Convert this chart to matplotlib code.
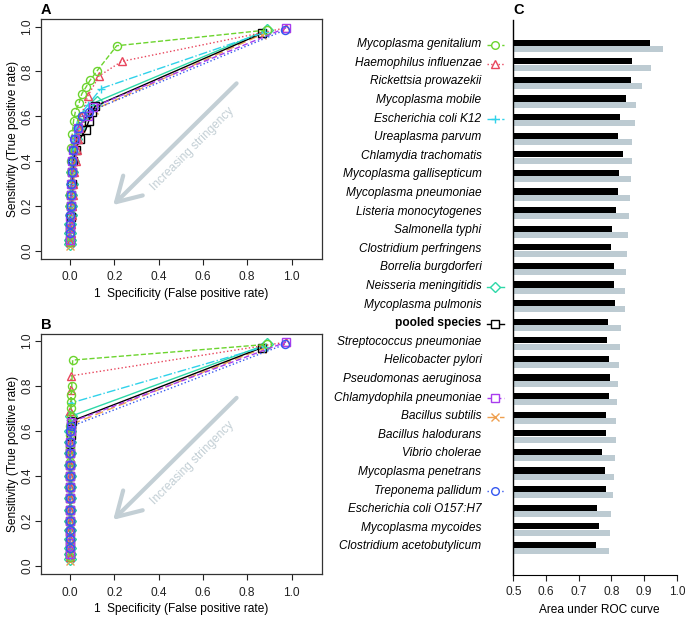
import matplotlib
matplotlib.use("Agg")
import matplotlib.pyplot as plt

plt.rcParams['font.family'] = ['Liberation Sans', 'DejaVu Sans']

# ---------------- data: panel C (area under ROC curve) ----------------
species = ["Mycoplasma genitalium", "Haemophilus influenzae", "Rickettsia prowazekii",
           "Mycoplasma mobile", "Escherichia coli K12", "Ureaplasma parvum",
           "Chlamydia trachomatis", "Mycoplasma gallisepticum", "Mycoplasma pneumoniae",
           "Listeria monocytogenes", "Salmonella typhi", "Clostridium perfringens",
           "Borrelia burgdorferi", "Neisseria meningitidis", "Mycoplasma pulmonis",
           "pooled species", "Streptococcus pneumoniae", "Helicobacter pylori",
           "Pseudomonas aeruginosa", "Chlamydophila pneumoniae", "Bacillus subtilis",
           "Bacillus halodurans", "Vibrio cholerae", "Mycoplasma penetrans",
           "Treponema pallidum", "Escherichia coli O157:H7", "Mycoplasma mycoides",
           "Clostridium acetobutylicum"]
auc_black = [0.918, 0.864, 0.860, 0.844, 0.826, 0.820, 0.836, 0.822, 0.820, 0.815,
             0.803, 0.798, 0.809, 0.807, 0.812, 0.791, 0.788, 0.792, 0.796, 0.793,
             0.783, 0.784, 0.770, 0.779, 0.783, 0.756, 0.762, 0.754]
auc_grey = [0.957, 0.920, 0.892, 0.874, 0.871, 0.864, 0.864, 0.860, 0.856, 0.853,
            0.851, 0.848, 0.844, 0.842, 0.842, 0.830, 0.827, 0.822, 0.820, 0.818,
            0.815, 0.814, 0.811, 0.808, 0.805, 0.798, 0.796, 0.792]

# ---------------- data: ROC curves (panels A and B), in drawing order ----------------
curve_names = ["Neisseria meningitidis", "Bacillus subtilis", "pooled species",
               "Escherichia coli K12", "Haemophilus influenzae", "Mycoplasma genitalium",
               "Chlamydophila pneumoniae", "Treponema pallidum"]
curve_colors = ["#2ED8A8", "#EFA050", "#000000", "#30D2EA", "#E8455C", "#6CD42E",
                "#A83CEE", "#3558F0"]
curve_markers = ["D", "x", "s", "+", "^", "o", "s", "o"]
curve_ls = ["-", (0, (6, 3)), "-", "-.", ":", "--", (0, (4, 2)), ":"]

tpr = [
    [0.03, 0.05, 0.08, 0.12, 0.16, 0.20, 0.25, 0.30, 0.35, 0.40, 0.45, 0.50, 0.55, 0.60, 0.665, 0.985],
    [0.02, 0.05, 0.10, 0.15, 0.20, 0.25, 0.30, 0.35, 0.40, 0.45, 0.50, 0.55, 0.60, 0.63, 0.965],
    [0.05, 0.10, 0.15, 0.20, 0.25, 0.30, 0.35, 0.40, 0.45, 0.50, 0.54, 0.58, 0.62, 0.645, 0.97],
    [0.04, 0.08, 0.12, 0.16, 0.20, 0.25, 0.30, 0.35, 0.40, 0.45, 0.50, 0.55, 0.60, 0.65, 0.724, 0.975],
    [0.04, 0.08, 0.12, 0.16, 0.20, 0.25, 0.30, 0.35, 0.40, 0.45, 0.50, 0.55, 0.60, 0.69, 0.78, 0.845, 0.995],
    [0.04, 0.08, 0.12, 0.16, 0.20, 0.25, 0.30, 0.35, 0.40, 0.46, 0.52, 0.58, 0.62, 0.66, 0.70, 0.73, 0.76, 0.80, 0.915, 0.985],
    [0.05, 0.10, 0.15, 0.20, 0.25, 0.30, 0.35, 0.40, 0.45, 0.50, 0.55, 0.60, 0.64, 0.995],
    [0.08, 0.12, 0.16, 0.20, 0.25, 0.30, 0.35, 0.40, 0.45, 0.50, 0.55, 0.60, 0.62, 0.985],
]
fpr_a = [
    [0.000, 0.000, 0.001, 0.002, 0.003, 0.004, 0.005, 0.007, 0.010, 0.013, 0.018, 0.025, 0.040, 0.065, 0.120, 0.888],
    [0.000, 0.001, 0.002, 0.003, 0.004, 0.006, 0.008, 0.011, 0.015, 0.022, 0.032, 0.048, 0.075, 0.110, 0.865],
    [0.001, 0.002, 0.003, 0.004, 0.006, 0.008, 0.011, 0.015, 0.025, 0.045, 0.071, 0.085, 0.100, 0.113, 0.865],
    [0.000, 0.001, 0.002, 0.003, 0.004, 0.005, 0.006, 0.008, 0.010, 0.013, 0.018, 0.025, 0.040, 0.080, 0.140, 0.880],
    [0.002, 0.004, 0.006, 0.008, 0.010, 0.012, 0.015, 0.020, 0.025, 0.030, 0.034, 0.040, 0.050, 0.080, 0.131, 0.233, 0.975],
    [0.000, 0.000, 0.001, 0.001, 0.002, 0.002, 0.003, 0.004, 0.005, 0.006, 0.010, 0.016, 0.024, 0.041, 0.053, 0.072, 0.090, 0.120, 0.211, 0.888],
    [0.000, 0.001, 0.002, 0.003, 0.004, 0.006, 0.008, 0.011, 0.015, 0.022, 0.035, 0.083, 0.102, 0.975],
    [0.000, 0.001, 0.002, 0.003, 0.004, 0.006, 0.008, 0.010, 0.014, 0.020, 0.035, 0.055, 0.085, 0.970],
]
fpr_b = [
    [0.000, 0.000, 0.000, 0.000, 0.000, 0.000, 0.000, 0.000, 0.000, 0.000, 0.000, 0.001, 0.001, 0.002, 0.004, 0.888],
    [0.000, 0.000, 0.000, 0.000, 0.000, 0.000, 0.000, 0.000, 0.000, 0.000, 0.001, 0.002, 0.004, 0.008, 0.865],
    [0.000, 0.000, 0.000, 0.000, 0.000, 0.000, 0.000, 0.000, 0.000, 0.001, 0.002, 0.003, 0.005, 0.010, 0.865],
    [0.000, 0.000, 0.000, 0.000, 0.000, 0.000, 0.000, 0.000, 0.000, 0.000, 0.000, 0.001, 0.001, 0.002, 0.003, 0.880],
    [0.000, 0.000, 0.000, 0.000, 0.000, 0.000, 0.000, 0.000, 0.000, 0.000, 0.000, 0.000, 0.001, 0.002, 0.003, 0.005, 0.975],
    [0.000, 0.000, 0.000, 0.000, 0.000, 0.000, 0.000, 0.000, 0.000, 0.000, 0.001, 0.002, 0.002, 0.003, 0.004, 0.005, 0.006, 0.008, 0.012, 0.888],
    [0.000, 0.000, 0.000, 0.000, 0.000, 0.000, 0.000, 0.000, 0.000, 0.001, 0.002, 0.003, 0.006, 0.975],
    [0.000, 0.000, 0.000, 0.000, 0.000, 0.000, 0.000, 0.000, 0.000, 0.001, 0.001, 0.002, 0.005, 0.970],
]

arrow_col = "#C3CFD5"
bar_grey = "#BDCBD2"
fs = 8.6

fig = plt.figure(figsize=(6.85, 6.18), dpi=100)
W, H = 685.0, 618.0


def roc_panel(rect, fprs, letter, letter_y):
    ax = fig.add_axes(rect)
    for k in range(len(curve_names)):
        ax.plot(fprs[k], tpr[k], color=curve_colors[k], ls=curve_ls[k], lw=1.0,
                marker=curve_markers[k], ms=5.8, mfc='none', mew=1.0)
    ax.set_xlim(-0.131, 1.139)
    ax.set_ylim(-0.037, 1.033)
    ax.set_xticks([0, 0.2, 0.4, 0.6, 0.8, 1.0])
    ax.set_yticks([0, 0.2, 0.4, 0.6, 0.8, 1.0])
    ax.set_xticklabels(["0.0", "0.2", "0.4", "0.6", "0.8", "1.0"])
    ax.set_yticklabels(["0.0", "0.2", "0.4", "0.6", "0.8", "1.0"], rotation=90, va='center')
    ax.tick_params(axis='x', direction='out', length=4, width=0.8, labelsize=fs, pad=5,
                   colors='#222222')
    ax.tick_params(axis='y', direction='out', length=4, width=0.8, labelsize=fs, pad=1.5,
                   colors='#222222')
    for s in ax.spines.values():
        s.set_linewidth(0.9)
        s.set_color('#333333')
    ax.set_xlabel("1  Specificity (False positive rate)", fontsize=fs, labelpad=3)
    ax.set_ylabel("Sensitivity (True positive rate)", fontsize=fs, labelpad=2)
    ax.annotate("", xy=(0.195, 0.204), xytext=(0.752, 0.747),
                arrowprops=dict(arrowstyle="->,head_length=1.7,head_width=1.0",
                                lw=3, color=arrow_col, mutation_scale=10,
                                shrinkA=0, shrinkB=0))
    ax.text(0.555, 0.455, "Increasing stringency", rotation=45, ha='center', va='center',
            rotation_mode='anchor', color=arrow_col, fontsize=fs)
    ax.text(-0.108, letter_y, letter, fontsize=10.5, fontweight='bold', ha='center',
            va='center', transform=ax.transData)
    return ax


roc_panel([41 / W, (H - 259) / H, 281.3 / W, 239.7 / H], fpr_a, "A", 1.075)
roc_panel([41 / W, (H - 574) / H, 281.3 / W, 240.4 / H], fpr_b, "B", 1.071)

# ---------------- panel C ----------------
axc = fig.add_axes([513.3 / W, 43 / H, (W - 513.3) / W, 555 / H])
n = len(species)
idx = list(range(n))
axc.barh([i - 0.17 for i in idx], [v - 0.5 for v in auc_black], left=0.5, height=0.33,
         color='black')
axc.barh([i + 0.17 for i in idx], [v - 0.5 for v in auc_grey], left=0.5, height=0.33,
         color=bar_grey)
axc.set_xlim(0.5, 1.025)
axc.set_ylim(28.45, -1.39)
axc.set_yticks([])
axc.set_xticks([0.5, 0.6, 0.7, 0.8, 0.9, 1.0])
axc.set_xticklabels(["0.5", "0.6", "0.7", "0.8", "0.9", "1.0"])
axc.tick_params(axis='x', direction='out', length=4, width=0.8, labelsize=fs, pad=4,
                colors='#222222')
axc.spines['top'].set_visible(False)
axc.spines['right'].set_visible(False)
axc.spines['bottom'].set_bounds(0.5, 1.0)
axc.spines['bottom'].set_linewidth(0.8)
axc.spines['left'].set_linewidth(1.0)
axc.set_xlabel("Area under ROC curve", fontsize=fs, labelpad=4)
axc.text(0.515, -1.92, "C", fontsize=10.5, fontweight='bold', ha='center', va='center')

for i, name in enumerate(species):
    if name == "pooled species":
        axc.text(0.403, i - 0.086, name, ha='right', va='center', fontsize=fs,
                 fontweight='bold')
    else:
        axc.text(0.403, i - 0.086, name, ha='right', va='center', fontsize=fs,
                 style='italic')
    if name in curve_names:
        k = curve_names.index(name)
        axc.plot([0.4195, 0.4715], [i - 0.05, i - 0.05], color=curve_colors[k],
                 ls=curve_ls[k], lw=1.0, clip_on=False)
        axc.plot([0.444], [i - 0.05], color=curve_colors[k], marker=curve_markers[k],
                 ms=5.5, mfc='white', mew=1.0, ls='none', clip_on=False)

fig.savefig("out.png", dpi=100)
